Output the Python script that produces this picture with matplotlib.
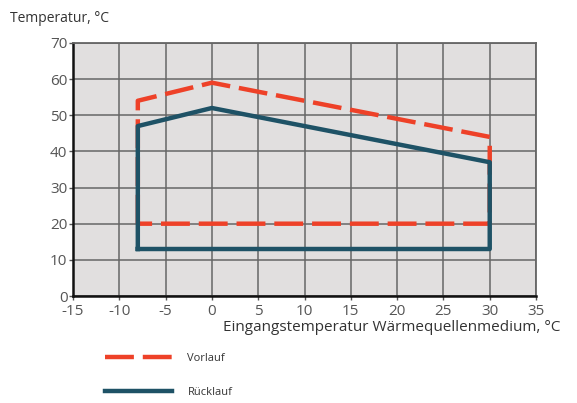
import matplotlib
matplotlib.use("Agg")
import matplotlib.pyplot as plt

# Einsatzgrenzen (Eingangstemperatur -> Temperatur)
vorlauf_x = [-8, -8, 0, 30, 30, -8]
vorlauf_y = [20, 54, 59, 44, 20, 20]
ruecklauf_x = [-8, -8, 0, 30, 30, -8]
ruecklauf_y = [13, 47, 52, 37, 13, 13]

x_ticks = list(range(-15, 40, 5))
y_ticks = list(range(0, 80, 10))

plt.rcParams['font.family'] = ['Open Sans', 'DejaVu Sans']
plt.rcParams['axes.unicode_minus'] = False

fig = plt.figure(figsize=(5.77, 4.03), dpi=100)
ax = fig.add_axes([0.1265, 0.2655, 0.8025, 0.628])
ax.set_facecolor('#e1dfdf')

ax.plot(vorlauf_x, vorlauf_y, color='#ee4128', linewidth=3.2,
        linestyle=(0, (6.5, 2.0)), label='Vorlauf', zorder=3)
ax.plot(ruecklauf_x, ruecklauf_y, color='#1e5266', linewidth=3.2,
        label='Rücklauf', zorder=4)

ax.set_xlim(-15, 35)
ax.set_ylim(0, 70)
ax.set_xticks(x_ticks)
ax.set_yticks(y_ticks)
ax.grid(True, color='#666666', linewidth=1.1)
ax.set_axisbelow(True)
ax.tick_params(colors='#555555', labelsize=11, length=3, width=1)
ax.tick_params(axis='x', pad=3)
ax.tick_params(axis='y', pad=1)

for side in ['left', 'bottom']:
    ax.spines[side].set_color('#111111')
    ax.spines[side].set_linewidth(1.8)
for side in ['top', 'right']:
    ax.spines[side].set_color('#666666')
    ax.spines[side].set_linewidth(1.3)

fig.text(0.017, 0.955, 'Temperatur, °C', fontsize=10, color='#333333',
         ha='left', va='center')
fig.text(0.972, 0.187, 'Eingangstemperatur Wärmequellenmedium, °C',
         fontsize=11, color='#333333', ha='right', va='center')

fig.legend(loc='upper left', bbox_to_anchor=(0.165, 0.15), frameon=False,
           fontsize=8, handlelength=6, handletextpad=1.4, labelspacing=2.1,
           labelcolor='#333333')

fig.savefig('out.png', dpi=100)
